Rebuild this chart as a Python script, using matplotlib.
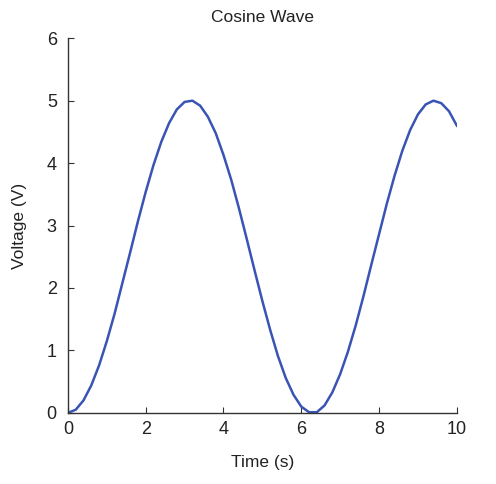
import matplotlib
matplotlib.use("Agg")
import matplotlib.pyplot as plt

plt.rcParams['font.family'] = ['Liberation Sans', 'DejaVu Sans']

# values
time_s = [0.0, 0.2, 0.4, 0.6, 0.8, 1.0, 1.2, 1.4, 1.6, 1.8,
          2.0, 2.2, 2.4, 2.6, 2.8, 3.0, 3.2, 3.4, 3.6, 3.8,
          4.0, 4.2, 4.4, 4.6, 4.8, 5.0, 5.2, 5.4, 5.6, 5.8,
          6.0, 6.2, 6.4, 6.6, 6.8, 7.0, 7.2, 7.4, 7.6, 7.8,
          8.0, 8.2, 8.4, 8.6, 8.8, 9.0, 9.2, 9.4, 9.6, 9.8, 10.0]
voltage = [0.00, 0.05, 0.20, 0.44, 0.76, 1.15, 1.59, 2.08, 2.57, 3.07,
           3.54, 3.97, 4.34, 4.64, 4.86, 4.98, 5.00, 4.92, 4.74, 4.48,
           4.13, 3.73, 3.27, 2.78, 2.28, 1.79, 1.33, 0.91, 0.56, 0.29,
           0.10, 0.01, 0.01, 0.12, 0.33, 0.62, 0.98, 1.40, 1.87, 2.37,
           2.86, 3.35, 3.80, 4.20, 4.53, 4.78, 4.94, 5.00, 4.96, 4.83, 4.60]

fig = plt.figure(figsize=(4.96, 4.84), dpi=100)
ax = fig.add_axes([0.137, 0.147, 0.784, 0.774])
ax.plot(time_s, voltage, color="#3a54b4", linewidth=1.8)

ax.set_xlim(0, 10)
ax.set_ylim(0, 6)
ax.set_xticks([0, 2, 4, 6, 8, 10])
ax.set_yticks([0, 1, 2, 3, 4, 5, 6])
ax.spines['top'].set_visible(False)
ax.spines['right'].set_visible(False)
for s in ('left', 'bottom'):
    ax.spines[s].set_color("#333333")
    ax.spines[s].set_linewidth(1.0)
ax.tick_params(direction='in', length=4, colors="#333333", labelsize=13,
               labelcolor="#222222")
ax.tick_params(axis='x', pad=6)
ax.tick_params(axis='y', pad=8)

ax.set_title("Cosine Wave", fontsize=12.5, color="#222222", pad=12)
ax.set_xlabel("Time (s)", fontsize=12.5, color="#222222", labelpad=12)
ax.set_ylabel("Voltage (V)", fontsize=12.5, color="#222222", labelpad=14)

fig.savefig("out.png", dpi=100)
